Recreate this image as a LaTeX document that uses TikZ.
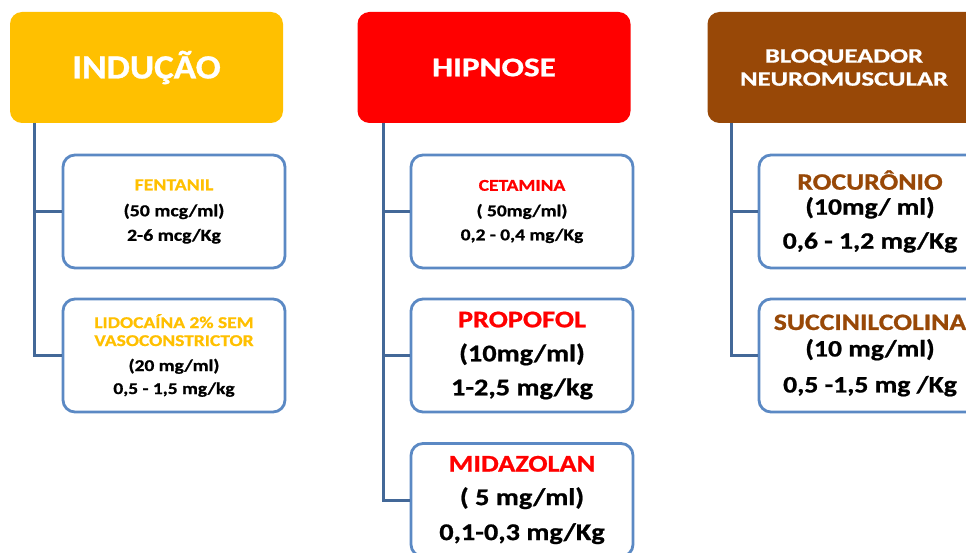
\documentclass[tikz,border=0pt]{standalone}
\usepackage{fontspec}
\setmainfont{Carlito}[BoldFeatures={FakeBold=0.8}]
\usepackage{graphicx}
\definecolor{gold}{RGB}{255,192,0}
\definecolor{hred}{RGB}{255,0,0}
\definecolor{brownh}{RGB}{152,72,7}
\definecolor{connc}{RGB}{67,104,152}
\definecolor{boxc}{RGB}{91,137,196}
\newcommand\sx[2][1.18]{\scalebox{#1}[1]{#2}}
\begin{document}
\begin{tikzpicture}[x=1pt,y=-1pt,
  header/.style={rounded corners=12pt, minimum width=273pt, minimum height=111pt, inner sep=0pt, text=white, align=center},
  item/.style={draw=boxc, line width=2.8pt, fill=white, rounded corners=12pt, minimum width=222pt, minimum height=113pt, inner sep=0pt, align=center},
  conn/.style={draw=connc, line width=3pt},
  small/.style={font=\bfseries\fontsize{16.8}{24}\selectfont},
  big/.style={font=\bfseries\fontsize{24}{32}\selectfont},
  bigb/.style={font=\bfseries\fontsize{23.5}{28}\selectfont}]
\useasboundingbox (0,0) rectangle (966,553);
\clip (0,0) rectangle (966,553);
\fill[white] (0,0) rectangle (966,553);

% headers
\node[header, fill=gold, font=\bfseries\fontsize{34}{40}\selectfont] (h1) at (146.5,67.5) {\sx[1.09]{INDUÇÃO}};
\node[header, fill=hred, font=\bfseries\fontsize{27}{32}\selectfont] (h2) at (494,67.5) {\sx[1.23]{HIPNOSE}};
\node[header, fill=brownh, font=\bfseries\fontsize{20.5}{23}\selectfont] (h3) at (844,67.5) {\sx[1.3]{BLOQUEADOR}\\\sx[1.3]{NEUROMUSCULAR}};

% connector origins
\coordinate (c1) at (34,123);
\coordinate (c2) at (383.5,123);
\coordinate (c3) at (731,123);

% item box positions
\path
  (174,211.5) coordinate (pfent)
  (174,355.5) coordinate (plido)
  (522,211.5) coordinate (pceta)
  (522,355.5) coordinate (pprop)
  (522,500) coordinate (pmida)
  (870,211.5) coordinate (procu)
  (870,355.5) coordinate (psucc);

\node[item, small] (fent) at (pfent) {\textcolor{gold}{\sx{FENTANIL}}\\[2pt]\sx{(50 mcg/ml)}\\[0.5pt]\sx{2-6 mcg/Kg}};
\node[item, font=\bfseries\fontsize{16.5}{23}\selectfont] (lido) at (plido) {\textcolor{gold}{\sx{LIDOCAÍNA 2\% SEM}}\\[-5pt]\textcolor{gold}{\sx{VASOCONSTRICTOR}}\\[2pt]\sx{(20 mg/ml)}\\\sx{0,5 - 1,5 mg/kg}};
\node[item, font=\bfseries\fontsize{16.5}{24}\selectfont] (ceta) at (pceta) {\textcolor{hred}{\sx{CETAMINA}}\\[1.5pt]\sx{( 50mg/ml)}\\[0pt]\sx{0,2 - 0,4 mg/Kg}};
\node[item, big] (prop) at (pprop) {\textcolor{hred}{\sx{PROPOFOL}}\\[2pt]\sx{(10mg/ml)}\\[2pt]\sx{1-2,5 mg/kg}};
\node[item, big] (mida) at (pmida) {\textcolor{hred}{\sx{MIDAZOLAN}}\\[1.5pt]\sx{( 5 mg/ml)}\\[3pt]\sx{0,1-0,3 mg/Kg}};
\node[item, bigb] (rocu) at (procu) {\textcolor{brownh}{\sx{ROCURÔNIO}}\\[-3pt]\sx{(10mg/ ml)}\\[6pt]\sx{0,6 - 1,2 mg/Kg}};
\node[item, bigb] (succ) at (psucc) {\textcolor{brownh}{\sx{SUCCINILCOLINA}}\\[-1.5pt]\sx{(10 mg/ml)}\\[8pt]\sx{0,5 -1,5 mg /Kg}};

% connectors
\draw[conn] (c1) |- (fent.west);
\draw[conn] (c1) |- (lido.west);
\draw[conn] (c2) |- (ceta.west);
\draw[conn] (c2) |- (prop.west);
\draw[conn] (c2) |- (mida.west);
\draw[conn] (c3) |- (rocu.west);
\draw[conn] (c3) |- (succ.west);
\end{tikzpicture}
\end{document}
